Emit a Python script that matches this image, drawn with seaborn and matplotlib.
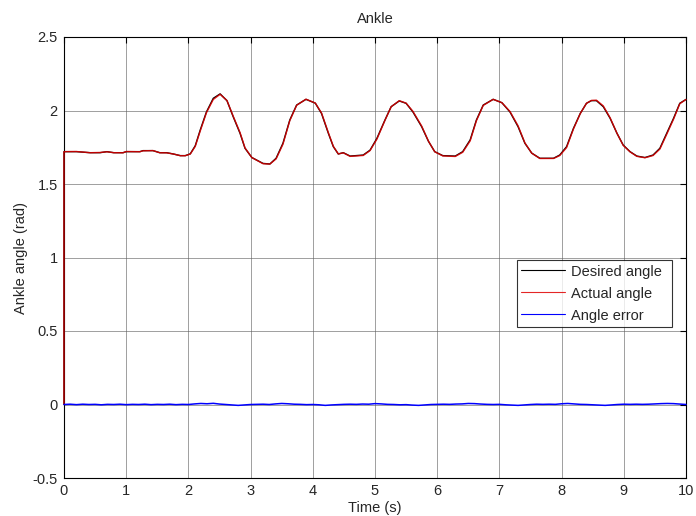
import numpy as np
import pandas as pd
import matplotlib
matplotlib.use("Agg")
import matplotlib.pyplot as plt
import seaborn as sns

# Desired ankle angle (rad)
time_desired = [0.0, 0.0, 0.2, 0.42, 0.58, 0.69, 0.8, 0.95, 1.0, 1.22, 1.27, 1.43, 1.54, 1.65, 1.76, 1.87,
                1.95, 2.03, 2.11, 2.19, 2.29, 2.40, 2.51, 2.62, 2.72, 2.83, 2.91, 3.02, 3.20, 3.31,
                3.41, 3.52, 3.63, 3.74, 3.89, 4.04, 4.14, 4.25, 4.33, 4.41, 4.49, 4.60, 4.81, 4.92,
                5.03, 5.16, 5.26, 5.39, 5.50, 5.61, 5.75, 5.86, 5.96, 6.09, 6.29, 6.41, 6.53, 6.63,
                6.74, 6.90, 7.04, 7.17, 7.30, 7.41, 7.52, 7.65, 7.87, 7.97, 8.08, 8.19, 8.30, 8.40,
                8.48, 8.56, 8.67, 8.78, 8.89, 8.99, 9.10, 9.21, 9.34, 9.47, 9.58, 9.69, 9.80, 9.90,
                9.98, 10.0]
angle_desired = [0.0, 1.72, 1.72, 1.713, 1.713, 1.72, 1.713, 1.713, 1.72, 1.72, 1.727, 1.727, 1.713, 1.713,
                 1.704, 1.693, 1.693, 1.705, 1.76, 1.867, 1.99, 2.083, 2.113, 2.067, 1.958, 1.845, 1.743,
                 1.68, 1.64, 1.636, 1.675, 1.777, 1.935, 2.037, 2.076, 2.05, 1.98, 1.845, 1.754, 1.704,
                 1.713, 1.69, 1.697, 1.73, 1.81, 1.935, 2.026, 2.065, 2.049, 1.99, 1.89, 1.79, 1.72,
                 1.693, 1.69, 1.72, 1.80, 1.935, 2.037, 2.076, 2.053, 1.99, 1.89, 1.777, 1.71, 1.675,
                 1.675, 1.697, 1.754, 1.878, 1.98, 2.049, 2.067, 2.067, 2.026, 1.947, 1.845, 1.765,
                 1.72, 1.69, 1.68, 1.697, 1.743, 1.845, 1.947, 2.049, 2.07, 2.075]

# Angle error (rad)
time_error = [0.0, 0.1, 0.2, 0.3, 0.4, 0.5, 0.6, 0.7, 0.8, 0.9, 1.0, 1.1, 1.2, 1.3, 1.4, 1.5, 1.6, 1.7,
              1.8, 1.9, 2.0, 2.1, 2.2, 2.3, 2.4, 2.5, 2.6, 2.7, 2.8, 2.9, 3.0, 3.1, 3.2, 3.3, 3.4, 3.5,
              3.6, 3.7, 3.8, 3.9, 4.0, 4.1, 4.2, 4.3, 4.4, 4.5, 4.6, 4.7, 4.8, 4.9, 5.0, 5.1, 5.2, 5.3,
              5.4, 5.5, 5.6, 5.7, 5.8, 5.9, 6.0, 6.1, 6.2, 6.3, 6.4, 6.5, 6.6, 6.7, 6.8, 6.9, 7.0, 7.1,
              7.2, 7.3, 7.4, 7.5, 7.6, 7.7, 7.8, 7.9, 8.0, 8.1, 8.2, 8.3, 8.4, 8.5, 8.6, 8.7, 8.8, 8.9,
              9.0, 9.1, 9.2, 9.3, 9.4, 9.5, 9.6, 9.7, 9.8, 9.9, 10.0]
angle_error = [0.0, 0.002, -0.001, 0.002, 0.0, 0.001, -0.002, 0.001, 0.0, 0.002, -0.001, 0.001, 0.0,
               0.002, -0.001, 0.001, 0.0, 0.002, -0.001, 0.001, 0.0, 0.004, 0.007, 0.005, 0.008, 0.003,
               0.0, -0.003, -0.006, -0.003, 0.0, 0.001, 0.002, 0.0, 0.004, 0.007, 0.005, 0.002, 0.001,
               -0.001, 0.0, -0.002, -0.006, -0.003, -0.001, 0.001, 0.002, 0.001, 0.003, 0.002, 0.006,
               0.004, 0.001, 0.0, -0.002, -0.001, -0.004, -0.006, -0.003, 0.0, 0.001, 0.002, 0.001,
               0.003, 0.004, 0.007, 0.006, 0.003, 0.001, 0.0, 0.001, -0.002, -0.004, -0.006, -0.003,
               0.0, 0.002, 0.001, 0.002, 0.001, 0.005, 0.007, 0.004, 0.001, 0.0, -0.002, -0.004,
               -0.006, -0.003, 0.0, 0.002, 0.001, 0.002, 0.001, 0.002, 0.004, 0.006, 0.007, 0.006,
               0.003, 0.0]

x_ticks = [0, 1, 2, 3, 4, 5, 6, 7, 8, 9, 10]
y_ticks = [-0.5, 0, 0.5, 1, 1.5, 2, 2.5]
y_tick_labels = ["-0.5", "0", "0.5", "1", "1.5", "2", "2.5"]

sns.set_style("white")
plt.rcParams['font.family'] = ['Liberation Sans', 'DejaVu Sans']

df_des = pd.DataFrame({"t": time_desired, "a": angle_desired})
err_on_des = np.interp(time_desired, time_error, angle_error)
df_act = pd.DataFrame({"t": time_desired, "a": np.array(angle_desired) - err_on_des})
df_err = pd.DataFrame({"t": time_error, "a": angle_error})

fig = plt.figure(figsize=(6.96, 5.16), dpi=100)
ax = fig.add_axes([64/696, 38/516, 622/696, 441/516])

sns.lineplot(data=df_des, x="t", y="a", ax=ax, color="black", lw=1.0, label="Desired angle", zorder=3,
             estimator=None, sort=False)
sns.lineplot(data=df_act, x="t", y="a", ax=ax, color="#e00000", lw=1.0, alpha=0.85, label="Actual angle",
             zorder=3, estimator=None, sort=False)
sns.lineplot(data=df_err, x="t", y="a", ax=ax, color="#0000ff", lw=1.1, label="Angle error", zorder=3,
             estimator=None, sort=False)
for ln in ax.get_lines():
    ln.set_clip_on(False)

ax.set_xlim(0, 10)
ax.set_ylim(-0.5, 2.5)
ax.set_xticks(x_ticks)
ax.set_yticks(y_ticks)
ax.set_xticklabels([str(v) for v in x_ticks])
ax.set_yticklabels(y_tick_labels)
ax.grid(True, color="#606060", lw=0.6, alpha=0.7)
ax.tick_params(direction="in", top=True, right=True, length=4, width=0.8, labelsize=10.5, color="black",
               pad=4.5)
for s in ax.spines.values():
    s.set_color("black")
    s.set_linewidth(0.8)

ax.set_title("Ankle", fontsize=10.5, pad=10)
ax.set_xlabel("Time (s)", fontsize=10.5, labelpad=2)
ax.set_ylabel("Ankle angle (rad)", fontsize=10.5, labelpad=3.5)

leg = ax.legend(loc="upper left", bbox_to_anchor=(0.728, 0.494, 0.249, 0.0), mode="expand",
                fontsize=10.5, frameon=True, fancybox=False, borderpad=0.3, labelspacing=0.55,
                handlelength=3.0, handletextpad=0.4, borderaxespad=0)
leg.get_frame().set_edgecolor("black")
leg.get_frame().set_linewidth(0.8)
for h in leg.get_lines():
    h.set_linewidth(0.8)

fig.savefig("out.png", dpi=100)
